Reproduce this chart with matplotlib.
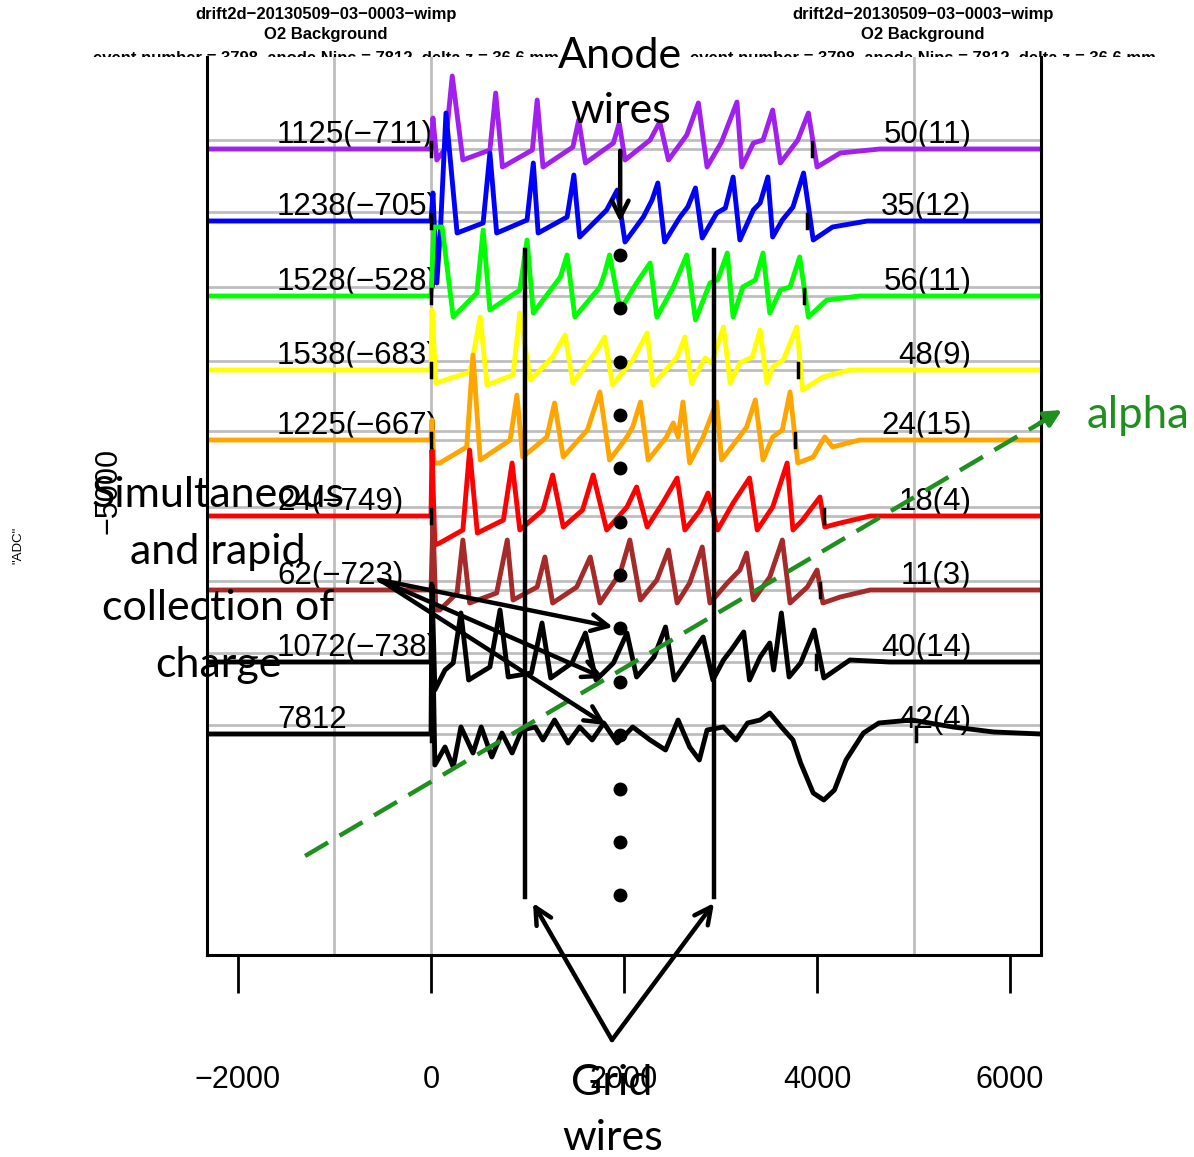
import matplotlib
matplotlib.use("Agg")
import matplotlib.pyplot as plt
from matplotlib.patches import Rectangle

# ---- data (x in ns-ish units, y in ADC) ----
names = ["purple", "blue", "green", "yellow", "orange", "red", "brown", "black1", "black2"]
colors = ["#A020F0", "#0000FF", "#00FF00", "#FFFF00", "#FFA500", "#FF0000", "#A52A2A", "black", "black"]
baselines = [-1580, -2300, -3050, -3790, -4490, -5250, -5990, -6710, -7430]
left_labels = ["1125(\u2212711)", "1238(\u2212705)", "1528(\u2212528)", "1538(\u2212683)", "1225(\u2212667)",
               "24(\u2212749)", "62(\u2212723)", "1072(\u2212738)", "7812"]
right_labels = ["50(11)", "35(12)", "56(11)", "48(9)", "24(15)", "18(4)", "11(3)", "40(14)", "42(4)"]
end_marks = [3947, 3895, 3864, 3800, 3770, 4070, 4030, 3990, 5020]

t_purple = [-2320, 0, 20, 60, 145, 220, 330, 610, 670, 740, 1050, 1100, 1160, 1470, 1530, 1600, 1890, 1950,
            2010, 2270, 2370, 2460, 2650, 2770, 2860, 3010, 3170, 3220, 3340, 3440, 3540, 3620, 3800, 3910,
            4000, 4240, 4650, 6320]
v_purple = [0, 0, 310, -110, 0, 730, -110, -10, 560, -180, -10, 490, -180, 20, 290, -140, 60, 260,
            -110, 90, 270, -110, 140, 460, -180, 70, 470, -180, 60, 90, 390, -140, 90, 360,
            -180, -40, 0, 0]

t_blue = [-2320, 0, 20, 60, 100, 155, 270, 540, 610, 680, 995, 1060, 1110, 1410, 1480, 1540, 1820, 1930,
          2010, 2200, 2290, 2350, 2420, 2580, 2660, 2740, 2810, 2960, 3050, 3130, 3200, 3340, 3410, 3490,
          3540, 3640, 3700, 3750, 3860, 3960, 4160, 4520, 6320]
v_blue = [0, 0, 280, -620, -40, 1080, -120, -20, 680, -120, 10, 580, -120, 40, 460, -160, 110, 310,
          -210, 40, 210, 380, -210, 40, 140, 330, -170, 80, 130, 440, -190, 110, 180, 440,
          -160, 10, 80, 140, 480, -190, -60, 0, 0]

t_green = [-2320, 0, 30, 115, 230, 475, 540, 610, 920, 995, 1060, 1340, 1410, 1490, 1750, 1800, 1850, 1960,
           2130, 2270, 2340, 2510, 2650, 2740, 2890, 2970, 3070, 3130, 3230, 3360, 3440, 3510, 3620, 3720,
           3820, 3910, 4100, 4440, 6320]
v_green = [0, 0, 690, 690, -210, 30, 660, -140, 60, 560, -170, 190, 410, -210, 90, 230, 410, -140,
           130, 330, -210, 90, 410, -240, 130, 160, 430, -210, 90, 160, 430, -170, 60, 90,
           390, -210, -40, 0, 0]

t_yellow = [-2320, 0, 10, 50, 405, 510, 580, 850, 920, 1030, 1260, 1390, 1470, 1720, 1800, 1880, 2090, 2240,
            2300, 2550, 2630, 2700, 2840, 2910, 3030, 3100, 3200, 3330, 3410, 3480, 3540, 3650, 3790, 3850,
            4060, 4340, 6320]
v_yellow = [0, 0, 600, -130, -20, 530, -150, -50, 570, -100, 130, 350, -130, 200, 330, -150, 100, 370,
            -150, 130, 330, -130, 120, 70, 430, -130, 70, 130, 400, -130, 30, 100, 430, -200,
            -70, 0, 0]

t_orange = [-2320, 0, 10, 30, 90, 370, 435, 510, 820, 890, 950, 1200, 1280, 1370, 1620, 1750, 1850, 2030,
            2090, 2170, 2250, 2440, 2510, 2560, 2610, 2680, 2820, 2960, 3010, 3170, 3270, 3360, 3440, 3540,
            3640, 3720, 3800, 3960, 4080, 4160, 4440, 6320]
v_orange = [0, 0, 200, -230, -230, -70, 850, -200, 0, 450, -170, 30, 370, -170, 100, 480, -200, 30,
            130, 380, -200, 30, 170, 30, 380, -230, 30, 380, -200, 0, 130, 400, -200, 30,
            100, 480, -230, -170, 30, -70, 0, 0]

t_red = [-2320, 0, 10, 40, 90, 330, 400, 480, 750, 840, 920, 1160, 1260, 1370, 1570, 1680, 1820, 2030,
         2130, 2240, 2400, 2550, 2630, 2790, 2870, 2970, 3130, 3300, 3380, 3540, 3690, 3750, 3850, 4030,
         4080, 4240, 4550, 6320]
v_red = [0, 0, 660, -290, -270, -140, 660, -170, -40, 530, -140, 60, 410, -110, 60, 410, -140, 90,
         290, -110, 130, 380, -140, 60, 230, -140, 130, 380, -140, 90, 530, -140, -40, 190,
         -110, -70, 0, 0]

t_brown = [-2320, 0, 20, 50, 90, 270, 330, 400, 680, 790, 850, 1100, 1180, 1260, 1510, 1650, 1750, 1960,
           2060, 2170, 2340, 2460, 2550, 2680, 2810, 2890, 3070, 3200, 3270, 3340, 3510, 3640, 3720, 3900,
           4000, 4060, 4240, 4550, 6320]
v_brown = [0, 0, 700, -200, -200, -30, 500, -130, -30, 500, -100, 30, 330, -130, 30, 330, -130, 170,
           500, -100, 100, 400, -130, 70, 430, -130, 70, 200, 370, -100, 130, 500, -130, 30,
           200, -130, -70, 0, 0]

t_black1 = [-2320, 0, 10, 40, 145, 230, 310, 390, 610, 715, 800, 1040, 1150, 1240, 1460, 1600, 1710, 1890,
            2030, 2130, 2310, 2430, 2520, 2680, 2820, 2920, 3030, 3110, 3240, 3300, 3410, 3510, 3550, 3630,
            3710, 3830, 3970, 4070, 4340, 4750, 6320]
v_black1 = [0, 0, 770, -280, -80, -10, 490, -180, -50, 520, -150, -110, 390, -160, -10, 290, -180, -10,
            290, -150, 50, 350, -180, 50, 250, -180, 20, 120, 300, -180, 50, 190, -80, 490,
            -150, -10, 320, -160, 20, 0, 0]

t_black2 = [-2320, 0, 10, 40, 145, 230, 310, 435, 520, 630, 735, 840, 940, 1080, 1160, 1280, 1420, 1540,
            1670, 1790, 1930, 2090, 2270, 2430, 2560, 2680, 2780, 2860, 3030, 3160, 3280, 3410, 3510, 3630,
            3750, 3830, 3960, 4070, 4180, 4300, 4480, 4640, 4980, 5410, 5830, 6320]
v_black2 = [0, 0, 1340, -310, -130, -330, 70, -190, 70, -230, 10, -190, 40, 70, -60, 140, -90, 70,
            -60, 110, -90, 70, -60, -160, 140, -130, -260, 40, 70, -60, 110, 140, 210, 70,
            -60, -290, -590, -660, -560, -260, 10, 110, 140, 70, 20, 0]

traces_t = [t_purple, t_blue, t_green, t_yellow, t_orange, t_red, t_brown, t_black1, t_black2]
traces_v = [v_purple, v_blue, v_green, v_yellow, v_orange, v_red, v_brown, v_black1, v_black2]

grid_x = [-1000, 0, 5000]
xticks = [-2000, 0, 2000, 4000, 6000]
xtick_labels = ["\u22122000", "0", "2000", "4000", "6000"]

# annotation overlay positions (data units)
dots_x = 1960
dots_y = [-2640, -3170, -3710, -4240, -4770, -5310, -5840, -6370, -6910, -7440, -7980, -8510, -9040]
grid_wire_x = [975, 2930]
grid_wire_y = (-2590, -9060)

fig = plt.figure(figsize=(11.94, 11.57), dpi=100)
ax = fig.add_axes([207 / 1194, 1 - 955 / 1157, (1041 - 207) / 1194, (955 - 57) / 1157])
ax.set_xlim(-2321, 6320)
ax.set_ylim(-9640, -660)

for s in ["left", "bottom", "right"]:
    ax.spines[s].set_linewidth(2.2)
ax.spines["top"].set_visible(False)

ax.set_xticks(xticks)
ax.set_xticklabels(xtick_labels, fontsize=22, family="Liberation Sans")
ax.tick_params(axis="x", length=27, width=2, pad=52)
ax.set_yticks([-5000])
ax.set_yticklabels(["\u22125000"], rotation=90, va="center", fontsize=22, family="Liberation Sans")
ax.tick_params(axis="y", length=0, pad=60)

for gx in grid_x:
    ax.axvline(gx, color="#bebebe", lw=2, zorder=0)
for b in baselines:
    ax.axhline(b + 5, color="#bebebe", lw=2, zorder=0.5)
    ax.axhline(b + 95, color="#bebebe", lw=2, zorder=0.5)

for i in range(len(names)):
    b = baselines[i]
    ax.text(-1595, b + 60, left_labels[i], ha="left", va="baseline", fontsize=22.5, family="Liberation Sans", zorder=1)
    ax.text(5600, b + 60, right_labels[i], ha="right", va="baseline", fontsize=22.5, family="Liberation Sans", zorder=1)
    ax.plot(traces_t[i], [b + v for v in traces_v[i]], color=colors[i], lw=3.5, zorder=2 + i * 0.01,
            solid_joinstyle="round")
    ax.plot([0, 0], [b - 70, b + 70], color="black", lw=2.5, zorder=2.5)
    ax.plot([end_marks[i], end_marks[i]], [b - 70, b + 70], color="black", lw=2.5, zorder=2.5)

# titles (two copies, third line cut by the slide)
for cx in [326 / 1194, 923 / 1194]:
    fig.text(cx, 1 - 15 / 1157, "drift2d\u221220130509\u221203\u22120003\u2212wimp", ha="center", va="center",
             fontsize=12, weight="bold", family="Liberation Sans")
    fig.text(cx, 1 - 35 / 1157, "O2 Background", ha="center", va="center",
             fontsize=12, weight="bold", family="Liberation Sans")
    fig.text(cx, 1 - 59 / 1157, "event number = 3798, anode Nips = 7812, delta z = 36.6 mm", ha="center",
             va="center", fontsize=12, weight="bold", family="Liberation Sans", zorder=-5)
fig.add_artist(Rectangle((0, 0), 1, 1 - 57 / 1157, transform=fig.transFigure, facecolor="white",
                         edgecolor="none", zorder=-4))
fig.text(18 / 1194, 1 - 545 / 1157, '"ADC"', rotation=90, ha="center", va="center", fontsize=9.5,
         family="Liberation Sans")

# ---- slide annotations ----
afont = dict(family="Lato", fontsize=31, ha="center", va="center", zorder=10)
ax.plot([dots_x] * len(dots_y), dots_y, "o", color="black", ms=9, zorder=6, clip_on=False)
for gx in grid_wire_x:
    ax.plot([gx, gx], grid_wire_y, color="black", lw=3.2, zorder=6, clip_on=False)

ax.text(1960, -650, "Anode", **afont)
ax.text(1960, -1200, "wires", **afont)
ax.annotate("", xy=(1960, -2340), xytext=(1960, -1570),
            arrowprops=dict(arrowstyle="->", lw=3.2, color="black", mutation_scale=30), zorder=7)

ax.text(1875, -10920, "Grid", **afont)
ax.text(1885, -11470, "wires", **afont)
for tx in [1057, 2932]:
    ax.annotate("", xy=(tx, -9120), xytext=(1875, -10490), annotation_clip=False,
                arrowprops=dict(arrowstyle="->", lw=3.2, color="black", mutation_scale=30,
                                shrinkA=0, shrinkB=0), zorder=7)

ax.plot([-1305, 6400], [-8650, -4270], color="#1f8f1f", lw=3.2, dashes=(6, 3), zorder=7, clip_on=False)
ax.annotate("", xy=(6537, -4190), xytext=(6300, -4325), annotation_clip=False,
            arrowprops=dict(arrowstyle="-|>", lw=3.2, color="#1f8f1f", mutation_scale=25,
                            shrinkA=0, shrinkB=0), zorder=7)
ax.text(6796, -4240, "alpha", color="#1f8f1f", family="Lato", fontsize=31.5, ha="left", va="center", zorder=10)

for ly, line in zip([-5040, -5610, -6170, -6740], ["Simultaneous", "and rapid", "collection of", "charge"]):
    ax.text(-2207, ly, line, **afont)
for ex, ey in [(1885, -6360), (1792, -6870), (1813, -7340)]:
    ax.annotate("", xy=(ex, ey), xytext=(-528, -5890), annotation_clip=False,
                arrowprops=dict(arrowstyle="->", lw=3.2, color="black", mutation_scale=30,
                                shrinkA=0, shrinkB=0), zorder=7)

fig.savefig("out.png", dpi=100)
